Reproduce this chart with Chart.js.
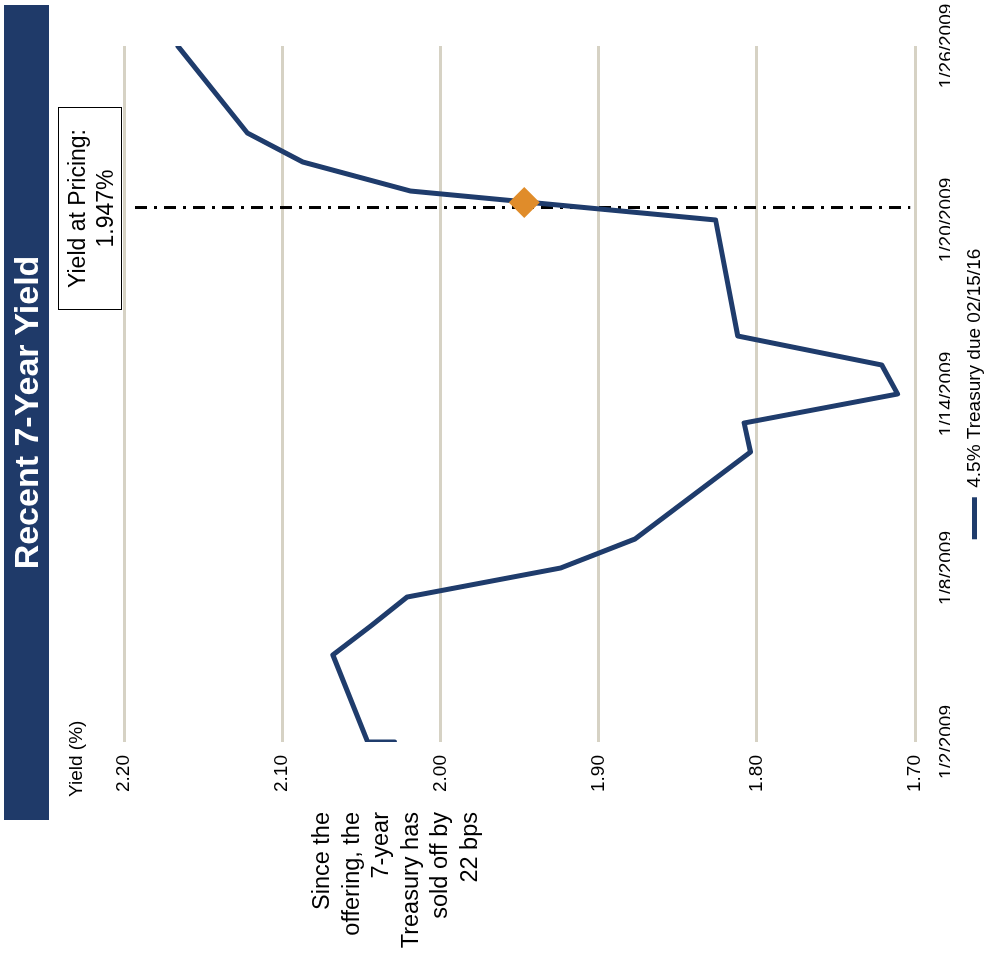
<!DOCTYPE html>
<html>
<head>
<meta charset="utf-8">
<script src="https://cdn.jsdelivr.net/npm/chart.js@4/dist/chart.umd.min.js"></script>
<style>
    html, body {
        margin: 0;
        padding: 0;
        background: #ffffff;
        overflow: hidden;
        width: 989px;
        height: 953px;
    }
    /* The page is laid out upright and turned a quarter turn counter-clockwise */
    #frame {
        position: absolute;
        left: 0;
        top: 0;
        width: 953px;
        height: 989px;
        transform-origin: 0 0;
        transform: translate(0px, 953px) rotate(-90deg);
        font-family: "Liberation Sans", Arial, sans-serif;
        color: #000000;
    }
    #chart {
        position: absolute;
        left: 0;
        top: 0;
    }
    #title {
        position: absolute;
        left: 133px;
        top: 4px;
        width: 815px;
        height: 45px;
        line-height: 45px;
        background: #1f3a69;
        color: #ffffff;
        font-weight: bold;
        font-size: 34px;
        text-align: center;
    }
    #yLabel {
        position: absolute;
        left: 156px;
        top: 65px;
        font-size: 19px;
        line-height: 22px;
    }
    #pricingBox {
        position: absolute;
        left: 643px;
        top: 58px;
        width: 203px;
        height: 64px;
        box-sizing: border-box;
        border: 1px solid #000000;
        background: #ffffff;
        font-size: 23px;
        line-height: 28px;
        text-align: center;
        padding-top: 4px;
    }
    #note {
        position: absolute;
        left: 0;
        top: 307px;
        width: 141px;
        font-size: 23.5px;
        line-height: 29.5px;
        text-align: right;
    }
</style>
</head>
<body>
<div id="frame">
    <canvas id="chart" width="953" height="989"></canvas>
    <div id="title">Recent 7-Year Yield</div>
    <div id="yLabel">Yield (%)</div>
    <div id="pricingBox">Yield at Pricing:<br>1.947%</div>
    <div id="note">Since the<br>offering, the<br>7-year<br>Treasury has<br>sold off by<br>22 bps</div>
</div>
<script>
// Daily closing yields of the 4.5% Treasury due 02/15/16
const tradeDates = ['1/2/2009', '1/2/2009', '1/5/2009', '1/6/2009', '1/7/2009', '1/8/2009',
    '1/9/2009', '1/12/2009', '1/13/2009', '1/14/2009', '1/15/2009', '1/16/2009',
    '1/20/2009', '1/21/2009', '1/22/2009', '1/23/2009', '1/26/2009'];
const yields = [2.029, 2.046, 2.068, 2.044, 2.021, 1.924,
    1.877, 1.804, 1.808, 1.711, 1.721, 1.812,
    1.826, 2.019, 2.087, 2.122, 2.166];

const dateTicks = ['1/2/2009', '1/8/2009', '1/14/2009', '1/20/2009', '1/26/2009'];
const yieldTicks = [1.70, 1.80, 1.90, 2.00, 2.10, 2.20];

// Pricing: time of the pricing marker line and the yield achieved
const pricingLineTime = '1/20/2009 10:20';
const pricingLineRange = [2.193, 1.703];
const pricingPointTime = '1/20/2009 14:30';
const pricingYield = 1.947;

const seriesLabel = '4.5% Treasury due 02/15/16';

const NAVY = '#1f3c6c';
const ORANGE = '#e08c2a';
const GRID = '#d6d2c4';

// Days elapsed since the first date on the axis
const axisStart = new Date(dateTicks[0]);
function dayOffset(text) {
    return (new Date(text) - axisStart) / 86400000;
}

const seriesPoints = tradeDates.map((d, i) => ({ x: dayOffset(d), y: yields[i] }));
const pricingLinePoints = pricingLineRange.map(v => ({ x: dayOffset(pricingLineTime), y: v }));
const pricingPoint = [{ x: dayOffset(pricingPointTime), y: pricingYield }];

Chart.defaults.font.family = '"Liberation Sans", Arial, sans-serif';
Chart.defaults.font.size = 19;
Chart.defaults.color = '#000000';

new Chart(document.getElementById('chart').getContext('2d'), {
    type: 'line',
    data: {
        datasets: [
            {
                label: seriesLabel,
                data: seriesPoints,
                borderColor: NAVY,
                backgroundColor: NAVY,
                borderWidth: 5,
                borderCapStyle: 'round',
                borderJoinStyle: 'round',
                pointRadius: 0,
                tension: 0,
                order: 2
            },
            {
                label: 'pricing line',
                data: pricingLinePoints,
                borderColor: '#000000',
                borderWidth: 3,
                borderDash: [12, 7, 3, 7],
                pointRadius: 0,
                order: 3
            },
            {
                label: 'pricing point',
                data: pricingPoint,
                showLine: false,
                pointStyle: 'rectRot',
                pointRadius: 15.5,
                pointBackgroundColor: ORANGE,
                pointBorderWidth: 0,
                order: 1
            }
        ]
    },
    options: {
        responsive: false,
        animation: false,
        devicePixelRatio: 1,
        layout: {
            padding: { left: 131, top: 124, right: 46, bottom: 0 }
        },
        scales: {
            x: {
                type: 'linear',
                min: 0,
                max: dayOffset(dateTicks[dateTicks.length - 1]),
                afterBuildTicks: (axis) => {
                    axis.ticks = dateTicks.map(d => ({ value: dayOffset(d) }));
                },
                afterFit: (axis) => {
                    // end labels fit inside the layout padding
                    axis.height = 35;
                    axis.paddingLeft = 0;
                    axis.paddingRight = 0;
                },
                ticks: {
                    padding: 20,
                    maxRotation: 0,
                    callback: (value) => dateTicks.find(d => dayOffset(d) === value) || ''
                },
                grid: { display: false, drawTicks: false },
                border: { display: false }
            },
            y: {
                min: yieldTicks[0],
                max: yieldTicks[yieldTicks.length - 1],
                afterBuildTicks: (axis) => {
                    axis.ticks = yieldTicks.map(v => ({ value: v }));
                },
                afterFit: (axis) => { axis.width = 80; },
                ticks: {
                    padding: 13,
                    callback: (value) => Number(value).toFixed(2)
                },
                grid: {
                    color: GRID,
                    lineWidth: 3,
                    drawTicks: false
                },
                border: { display: false }
            }
        },
        plugins: {
            title: { display: false },
            tooltip: { enabled: false },
            legend: {
                display: true,
                position: 'bottom',
                fullSize: false,
                maxHeight: 39,
                labels: {
                    filter: (item) => item.datasetIndex === 0,
                    usePointStyle: true,
                    pointStyle: 'line',
                    pointStyleWidth: 42,
                    padding: 15,
                    color: '#000000',
                    font: { size: 19 }
                }
            }
        }
    }
});
</script>
</body>
</html>
